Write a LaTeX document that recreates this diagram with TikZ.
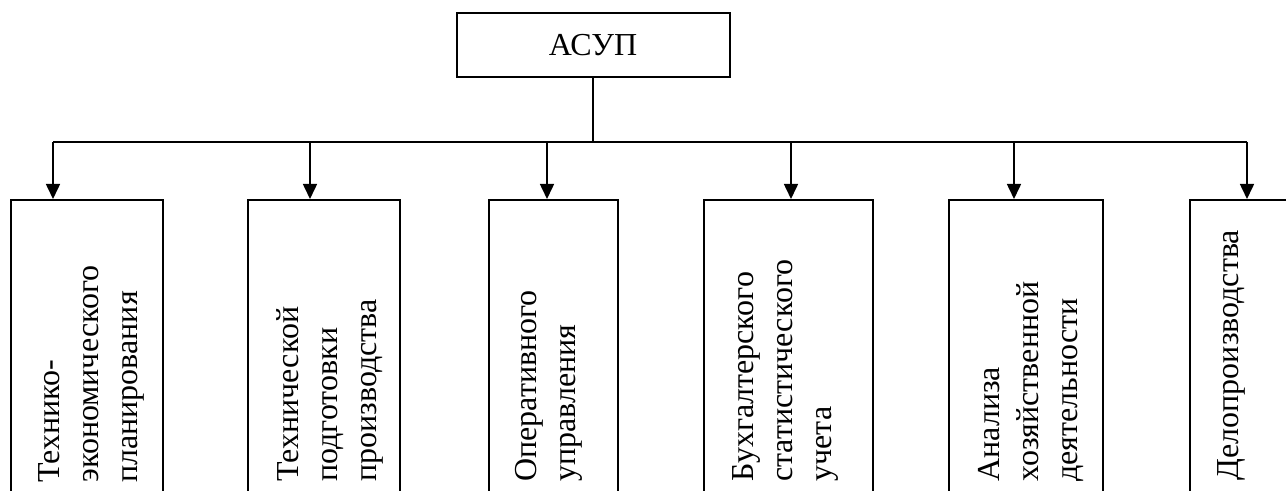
\documentclass[tikz,border=0pt]{standalone}
\usepackage{fontspec}
\setmainfont{Liberation Serif}
\usetikzlibrary{arrows.meta}

\begin{document}
\begin{tikzpicture}[x=0.5pt, y=0.5pt,
    blok/.style={draw, line width=1pt, minimum height=165.5pt, inner sep=0pt},
    vtext/.style={rotate=90, anchor=west, align=left, inner sep=0pt,
      font=\fontsize{16}{19.5}\selectfont},
    arr/.style={line width=0.8pt, -{Triangle[length=7.5pt, width=7pt]}}]
  \useasboundingbox (0, 0) rectangle (1286, 491);
  \clip (0, 0) rectangle (1286, 491);

  \node [draw, line width=1pt, minimum width=136.5pt, minimum height=32pt,
    font=\fontsize{16}{19.5}\selectfont] (asup) at (593, 446) {АСУП};

  % boxes
  \node [blok, minimum width=76pt] (b1) at (87, 125.5) {};
  \node [blok, minimum width=76pt] (b2) at (324, 125.5) {};
  \node [blok, minimum width=64.5pt] (b3) at (553.5, 125.5) {};
  \node [blok, minimum width=84.5pt] (b4) at (788.5, 125.5) {};
  \node [blok, minimum width=77pt] (b5) at (1026, 125.5) {};
  \node [blok, minimum width=70pt] (b6) at (1260, 125.5) {};

  \node [vtext] (t1) at (91, 8) {Технико-\\экономического\\планирования};
  \node [vtext] (t2) at (330, 9) {Технической\\подготовки\\производства};
  \node [vtext] (t3) at (549, 9) {Оперативного\\управления};
  \node [vtext] (t4) at (785, 9) {Бухгалтерского\\статистического\\учета};
  \node [vtext] (t5) at (1031, 9) {Анализа\\хозяйственной\\деятельности};
  \node [vtext] (t6) at (1231, 10) {Делопроизводства};

  % bus
  \coordinate (a1) at (53, 349);
  \coordinate (a2) at (310, 349);
  \coordinate (a3) at (547, 349);
  \coordinate (a4) at (791, 349);
  \coordinate (a5) at (1014, 349);
  \coordinate (a6) at (1247, 349);
  \draw [line width=0.8pt] (asup.south) -- (asup.south |- a1);
  \draw [line width=0.8pt] (a1) -- (a6);
  \foreach \i in {1,...,6}
    \draw [arr] (a\i) -- (a\i |- b\i.north);
\end{tikzpicture}
\end{document}
